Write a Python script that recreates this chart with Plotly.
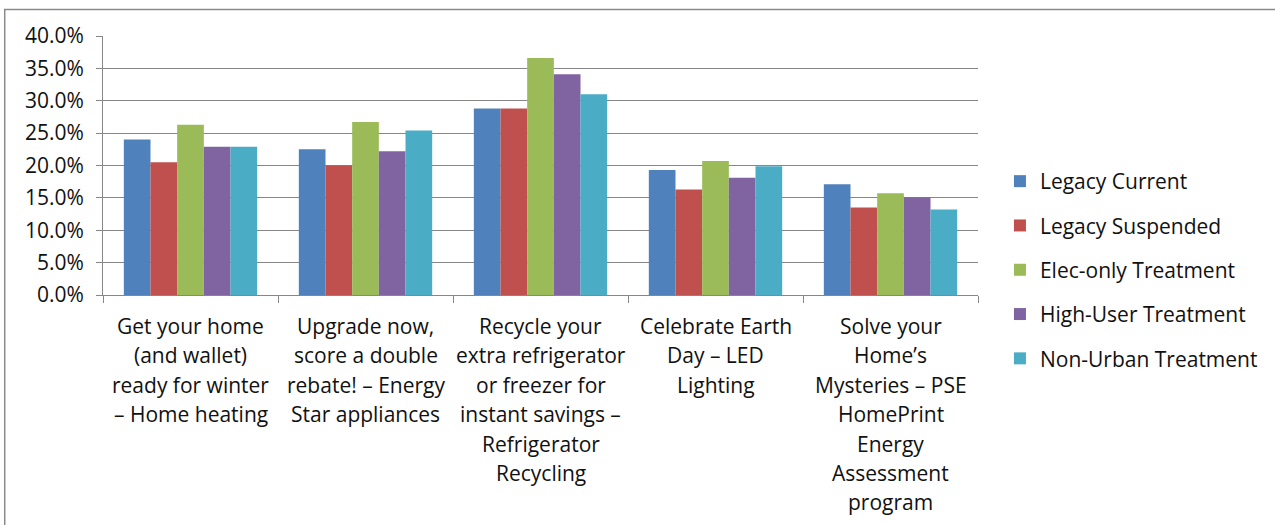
import plotly.graph_objects as go

# Category labels, one entry per line of the wrapped label
categories = [
    "Get your home\n(and wallet)\nready for winter\n– Home heating",
    "Upgrade now,\nscore a double\nrebate! – Energy\nStar appliances",
    "Recycle your\nextra refrigerator\nor freezer for\ninstant savings –\nRefrigerator\nRecycling",
    "Celebrate Earth\nDay – LED\nLighting",
    "Solve your\nHome’s\nMysteries – PSE\nHomePrint\nEnergy\nAssessment\nprogram",
]

legacy_current = [0.240, 0.225, 0.288, 0.193, 0.171]
legacy_suspended = [0.205, 0.200, 0.288, 0.163, 0.135]
elec_only = [0.263, 0.267, 0.366, 0.207, 0.157]
high_user = [0.229, 0.222, 0.341, 0.181, 0.151]
non_urban = [0.229, 0.254, 0.310, 0.199, 0.132]

series_names = [
    "Legacy Current",
    "Legacy Suspended",
    "Elec-only Treatment",
    "High-User Treatment",
    "Non-Urban Treatment",
]
series_values = [legacy_current, legacy_suspended, elec_only, high_user, non_urban]
colors = ["#4F81BD", "#C0504D", "#9BBB59", "#8064A2", "#4BACC6"]

y_ticks = [0.0, 0.05, 0.10, 0.15, 0.20, 0.25, 0.30, 0.35, 0.40]

FONT = "Open Sans"
FONT_SIZE = 21
TEXT_COLOR = "#111111"
GRID = "#878787"

W, H = 1275, 525
M_L, M_R, M_T, M_B = 103, 295, 36, 230
plot_w = W - M_L - M_R
plot_h = H - M_T - M_B

cat_keys = [f"c{i}" for i in range(len(categories))]

fig = go.Figure()
for i, (name, vals, col) in enumerate(zip(series_names, series_values, colors)):
    fig.add_trace(
        go.Bar(
            x=cat_keys,
            y=vals,
            name=name,
            marker=dict(color=col, line=dict(width=0)),
            legendgroup=name,
            hoverinfo="skip",
        )
    )

# Wrapped category labels below the axis
LINE_GAP = 29.4
FIRST_LINE = 31
annotations = []
for key, label in zip(cat_keys, categories):
    for j, line in enumerate(label.split("\n")):
        annotations.append(
            dict(
                x=key,
                xref="x",
                y=0,
                yref="paper",
                yanchor="middle",
                xanchor="center",
                yshift=-(FIRST_LINE + j * LINE_GAP),
                text=line,
                showarrow=False,
                font=dict(family=FONT, size=FONT_SIZE, color=TEXT_COLOR),
            )
        )

# Outer frame of the chart object
def px_to_paper_x(px):
    return (px - M_L) / plot_w

def px_to_paper_y(py):
    return (H - M_B - py) / plot_h

shapes = [
    dict(
        type="rect",
        xref="paper",
        yref="paper",
        x0=px_to_paper_x(4.5),
        x1=px_to_paper_x(W + 20),
        y0=px_to_paper_y(H + 20),
        y1=px_to_paper_y(9.5),
        line=dict(color="#8a8a8a", width=1.5),
        fillcolor="rgba(0,0,0,0)",
        layer="below",
    )
]

fig.update_layout(
    width=W,
    height=H,
    margin=dict(l=M_L, r=M_R, t=M_T, b=M_B, pad=0),
    paper_bgcolor="white",
    plot_bgcolor="white",
    barmode="group",
    bargap=0.238,
    bargroupgap=0,
    font=dict(family=FONT, size=FONT_SIZE, color=TEXT_COLOR),
    showlegend=True,
    legend=dict(
        x=px_to_paper_x(1002),
        xanchor="left",
        y=px_to_paper_y(270),
        yanchor="middle",
        tracegroupgap=14,
        font=dict(family=FONT, size=FONT_SIZE, color=TEXT_COLOR),
        bgcolor="rgba(0,0,0,0)",
        borderwidth=0,
        itemclick=False,
    ),
    annotations=annotations,
    shapes=shapes,
    xaxis=dict(
        showticklabels=False,
        tickson="boundaries",
        ticks="outside",
        ticklen=7,
        tickcolor=GRID,
        showline=True,
        linecolor=GRID,
        linewidth=1,
        showgrid=False,
        mirror=False,
        fixedrange=True,
    ),
    yaxis=dict(
        range=[0, 0.4],
        tickvals=y_ticks,
        tickformat=".1%",
        ticks="outside",
        ticklen=6,
        tickcolor=GRID,
        showline=True,
        linecolor=GRID,
        linewidth=1,
        showgrid=True,
        gridcolor=GRID,
        gridwidth=1,
        zeroline=False,
        ticklabelstandoff=8,
        tickfont=dict(family=FONT, size=FONT_SIZE, color=TEXT_COLOR),
        fixedrange=True,
    ),
)

fig.write_html("out.html")
